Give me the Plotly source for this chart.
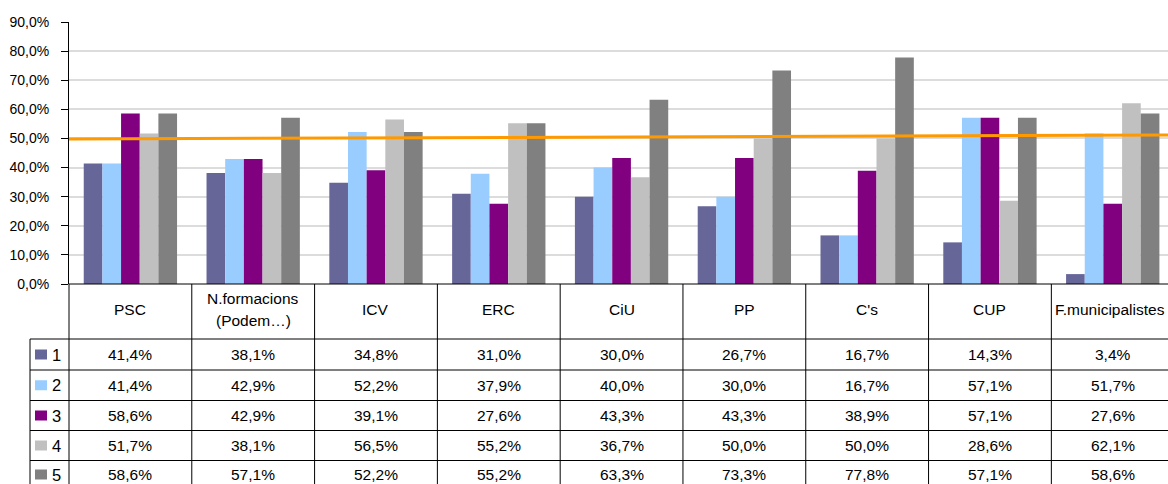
import plotly.graph_objects as go

# ---------------- data ----------------
categories = ["PSC", "N.formacions<br>(Podem…)", "ICV", "ERC", "CiU", "PP", "C's", "CUP", "F.municipalistes"]
series_names = ["1", "2", "3", "4", "5"]
s1 = [41.4, 38.1, 34.8, 31.0, 30.0, 26.7, 16.7, 14.3, 3.4]
s2 = [41.4, 42.9, 52.2, 37.9, 40.0, 30.0, 16.7, 57.1, 51.7]
s3 = [58.6, 42.9, 39.1, 27.6, 43.3, 43.3, 38.9, 57.1, 27.6]
s4 = [51.7, 38.1, 56.5, 55.2, 36.7, 50.0, 50.0, 28.6, 62.1]
s5 = [58.6, 57.1, 52.2, 55.2, 63.3, 73.3, 77.8, 57.1, 58.6]
series_values = [s1, s2, s3, s4, s5]
trend_values = [49.8, 51.2]   # orange reference/trend line, left and right ends
y_ticks = [0, 10, 20, 30, 40, 50, 60, 70, 80, 90]
y_tick_text = [f"{v:.1f}".replace(".", ",") + "%" for v in y_ticks]

colors = ["#666699", "#99CCFF", "#800080", "#C0C0C0", "#808080"]
trend_color = "#FF9900"

# ---------------- geometry ----------------
W, H = 1168, 484
ML, MR, MT, MB = 69, 0, 22, 0
PW = W - ML - MR
PH = H - MT - MB
XMIN, XMAX = -0.5, 8.45
AXIS_BOTTOM_PX = 284
HEADER_BOTTOM_PX = 339
ROW_LINES_PX = [339, 370, 400.5, 430.5, 460.5, 491]
LEGEND_LEFT_PX = 30
FONT = "Liberation Sans, Arial, sans-serif"
FS_TABLE = 15.5
FS_TICK = 14


def py(p):
    return (H - MB - p) / PH


def pxp(p):
    return (p - ML) / PW


def xd(x):
    return (x - XMIN) / (XMAX - XMIN)


fig = go.Figure()
xs = list(range(len(categories)))
for name, vals, col in zip(series_names, series_values, colors):
    fig.add_trace(go.Bar(x=xs, y=vals, name=name, marker=dict(color=col, line=dict(width=0)),
                         hoverinfo="y"))

fig.add_trace(go.Scatter(x=[XMIN, XMAX], y=trend_values, mode="lines",
                         line=dict(color=trend_color, width=3), hoverinfo="skip", cliponaxis=False))

shapes = []
annotations = []
line_style = dict(color="black", width=1)

# horizontal table lines
shapes.append(dict(type="line", xref="paper", yref="paper", x0=0, x1=1.01,
                   y0=py(AXIS_BOTTOM_PX), y1=py(AXIS_BOTTOM_PX), line=line_style))
for r in ROW_LINES_PX[:-1]:
    shapes.append(dict(type="line", xref="paper", yref="paper", x0=pxp(LEGEND_LEFT_PX), x1=1.01,
                       y0=py(r), y1=py(r), line=line_style))
# vertical table lines
shapes.append(dict(type="line", xref="paper", yref="paper", x0=pxp(LEGEND_LEFT_PX), x1=pxp(LEGEND_LEFT_PX),
                   y0=py(HEADER_BOTTOM_PX), y1=py(H + 5), line=line_style))
shapes.append(dict(type="line", xref="paper", yref="paper", x0=0, x1=0,
                   y0=py(AXIS_BOTTOM_PX), y1=py(H + 5), line=line_style))
for i in range(len(categories)):
    xb = xd(i + 0.5)
    if xb <= 1:
        shapes.append(dict(type="line", xref="paper", yref="paper", x0=xb, x1=xb,
                           y0=py(AXIS_BOTTOM_PX), y1=py(H + 5), line=line_style))

# header labels
header_center = (AXIS_BOTTOM_PX + HEADER_BOTTOM_PX) / 2 - 2
for i, cat in enumerate(categories):
    lines = cat.split("<br>")
    n = len(lines)
    spacing = 22
    last = i == len(categories) - 1
    for k, ln in enumerate(lines):
        yc = header_center + (k - (n - 1) / 2) * spacing
        annotations.append(dict(x=(pxp(W - 1) if last else xd(i)), y=py(yc), xref="paper", yref="paper",
                                text=ln, showarrow=False,
                                xanchor=("right" if last else "center"), yanchor="middle",
                                font=dict(family=FONT, size=FS_TABLE, color="black")))

# data rows
for r, (name, vals, col) in enumerate(zip(series_names, series_values, colors)):
    top, bot = ROW_LINES_PX[r], ROW_LINES_PX[r + 1]
    yc = (top + bot) / 2
    if r == len(series_names) - 1:
        yc = top + 14
    # legend key
    shapes.append(dict(type="rect", xref="paper", yref="paper", x0=pxp(35), x1=pxp(47),
                       y0=py(yc - 5), y1=py(yc + 5), fillcolor=col, line=dict(width=0)))
    annotations.append(dict(x=pxp(50), y=py(yc), xref="paper", yref="paper", text=name,
                            showarrow=False, xanchor="left", yanchor="middle",
                            font=dict(family=FONT, size=FS_TABLE + 1, color="black")))
    for i, v in enumerate(vals):
        txt = f"{v:.1f}".replace(".", ",") + "%"
        annotations.append(dict(x=xd(i), y=py(yc), xref="paper", yref="paper", text=txt,
                                showarrow=False, xanchor="center", yanchor="middle",
                                font=dict(family=FONT, size=FS_TABLE, color="black")))

fig.update_layout(
    width=W, height=H,
    margin=dict(l=ML, r=MR, t=MT, b=MB, pad=0, autoexpand=False),
    paper_bgcolor="white", plot_bgcolor="white",
    barmode="group", bargap=0.24, bargroupgap=0,
    showlegend=False,
    separators=",.",
    shapes=shapes, annotations=annotations,
    xaxis=dict(range=[XMIN, XMAX], showticklabels=False, ticks="", showgrid=False,
               zeroline=False, showline=False, fixedrange=True, automargin=False),
    yaxis=dict(range=[0, 90], domain=[py(AXIS_BOTTOM_PX), 1], tickmode="array",
               tickvals=y_ticks, ticktext=y_tick_text, ticks="outside", ticklen=7,
               tickcolor="black", showline=True, linecolor="black", linewidth=1,
               showgrid=True, gridcolor="#dcdcdc", gridwidth=1.5, zeroline=False,
               ticklabelstandoff=9, automargin=False,
               tickfont=dict(family=FONT, size=FS_TICK, color="black")),
)

fig.write_html("out.html", config={"displayModeBar": False},
               post_script="document.body.style.margin='0';document.body.style.overflow='hidden';")
